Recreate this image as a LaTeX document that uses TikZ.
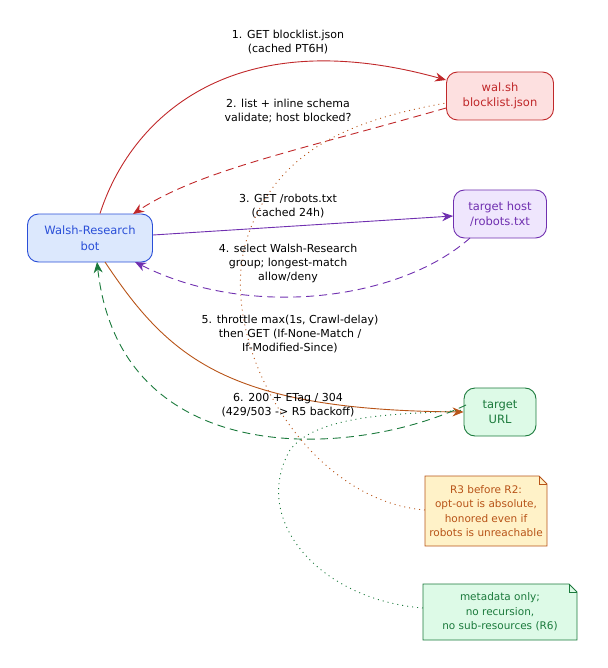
\documentclass[tikz,border=0pt]{standalone}
\usepackage{fontspec}
\setmainfont{DejaVu Sans}
\usetikzlibrary{arrows.meta,shapes.misc}
\definecolor{bl}{HTML}{2A4FD8}\definecolor{blf}{HTML}{DCE8FD}
\definecolor{rd}{HTML}{C0282A}\definecolor{rdf}{HTML}{FDE0E0}
\definecolor{pu}{HTML}{7030B0}\definecolor{puf}{HTML}{EFE6FD}
\definecolor{gr}{HTML}{1B7A3C}\definecolor{grf}{HTML}{DDFAE7}
\definecolor{or}{HTML}{B85418}\definecolor{orf}{HTML}{FFF2C8}
\begin{document}
\begin{tikzpicture}[x=1pt,y=-1pt,
  every node/.style={font=\fontsize{11.5}{15.5}\selectfont,align=center,inner sep=0pt},
  box/.style={draw,rounded corners=11pt,line width=0.9pt,minimum height=48pt},
  note/.style={line width=0.9pt},
  nt/.style={font=\fontsize{10.5}{14.5}\selectfont},
  lab/.style={font=\fontsize{11}{14}\selectfont},
  arr/.style={-{Stealth[length=11pt,width=9pt]},line width=0.9pt},
  dsh/.style={dash pattern=on 8pt off 5pt},
  dot/.style={dash pattern=on 1pt off 4pt,line width=0.9pt}]
\useasboundingbox (0,0) rectangle (607,668);
\node[box,draw=bl,fill=blf,text=bl,minimum width=125pt] (bot) at (90,238) {Walsh-Research\\bot};
\node[box,draw=rd,fill=rdf,text=rd,minimum width=107pt] (wal) at (500,96) {wal.sh\\blocklist.json};
\node[box,draw=pu,fill=puf,text=pu,minimum width=93pt] (rob) at (500,214) {target host\\/robots.txt};
\node[box,draw=gr,fill=grf,text=gr,minimum width=72pt] (url) at (500,412) {target\\URL};
% notes
\draw[note,draw=or,fill=orf] (425,476) -- (539,476) -- (547,484) -- (547,546) -- (425,546) -- cycle;
\draw[note,draw=or] (539,476) -- (539,484) -- (547,484);
\node[text=or,nt] (n1) at (486,511) {R3 before R2:\\opt-out is absolute,\\honored even if\\robots is unreachable};
\coordinate (n1l) at (425,510);
\draw[note,draw=gr,fill=grf] (423,584) -- (569,584) -- (577,592) -- (577,640) -- (423,640) -- cycle;
\draw[note,draw=gr] (569,584) -- (569,592) -- (577,592);
\node[text=gr,nt] (n2) at (500,612) {metadata only;\\no recursion,\\no sub-resources (R6)};
\coordinate (n2l) at (423,608);
% edges
\draw[arr,rd] (bot.north) ++(10,0) .. controls (130,120) and (230,20) .. (wal.west|-0,80);
\node[lab] (l1) at (288,42) {1. GET blocklist.json\\(cached PT6H)};
\draw[arr,rd,dsh] (wal.west|-0,108) .. controls (300,150) and (200,170) .. (133,214);
\node[lab] (l2) at (288,111) {2. list + inline schema\\validate; host blocked?};
\draw[arr,pu] (bot.east|-0,235) -- (rob.west|-0,216);
\node[lab] (l3) at (288,206) {3. GET /robots.txt\\(cached 24h)};
\draw[arr,pu,dsh] (470,238) .. controls (400,300) and (250,320) .. (135,262);
\node[lab] (l4) at (288,263) {4. select Walsh-Research\\group; longest-match\\allow/deny};
\draw[arr,or] (105,262) .. controls (170,360) and (230,410) .. (url.west|-0,412);
\node[lab] (l5) at (290,334) {5. throttle max(1s, Crawl-delay)\\then GET (If-None-Match /\\If-Modified-Since)};
\draw[arr,gr,dsh] (466,405) .. controls (350,460) and (120,470) .. (97,262);
\node[lab] (l6) at (288,405) {6. 200 + ETag / 304\\(429/503 -> R5 backoff)};
\draw[dot,or] (n1l) .. controls (300,500) and (210,330) .. (250,230) .. controls (280,150) and (350,120) .. (wal.west|-0,103);
\draw[dot,gr] (n2l) .. controls (320,600) and (250,520) .. (290,450) .. controls (320,410) and (420,415) .. (url.west|-0,410);
\end{tikzpicture}
\end{document}
